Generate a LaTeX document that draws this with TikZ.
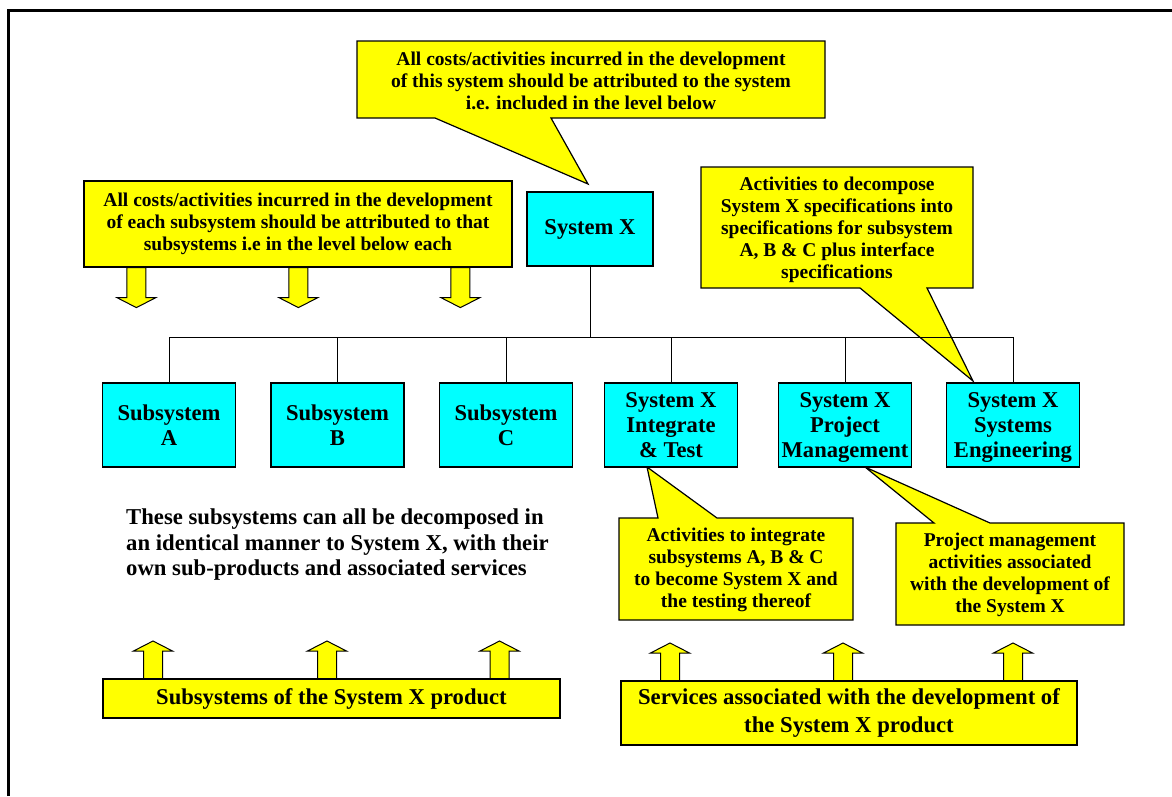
\documentclass[tikz,border=0pt]{standalone}
\usepackage{fontspec}
\setmainfont{Liberation Serif}
\usetikzlibrary{calc}
\definecolor{cyanbox}{HTML}{00FFFF}
\definecolor{yel}{HTML}{FFFF00}
\newcommand\calloutfont{\fontsize{19.5}{22}\selectfont\bfseries}
\newcommand\boxfont{\fontsize{22.6}{25}\selectfont\bfseries}
\tikzset{
  sysbox/.style={draw, fill=cyanbox, line width=1.2pt, minimum width=133, minimum height=84, inner sep=0pt, align=center, font=\boxfont},
  threeline/.style={text depth=0pt},
  callshape/.style={draw, fill=yel, line width=1.2pt, line join=miter},
  calltext/.style={align=center, inner sep=0pt, font=\calloutfont},
  yelbox/.style={draw, fill=yel, line width=1.2pt, inner sep=0pt, align=center, font=\boxfont},
  link/.style={line width=1pt},
  darrow/.pic={\draw[fill=yel, line width=1pt] (-9.5,0) -- (-9.5,30) -- (-19.5,30) -- (0,40) -- (19.5,30) -- (9.5,30) -- (9.5,0) -- cycle;},
  uarrow/.pic={\draw[fill=yel, line width=1pt] (-9.5,0) -- (-9.5,-28) -- (-19.5,-28) -- (0,-38) -- (19.5,-28) -- (9.5,-28) -- (9.5,0) -- cycle;}
}
\begin{document}
\begin{tikzpicture}[x=1pt,y=-1pt]
\useasboundingbox (0,0) rectangle (1172,796);
\fill[white] (0,0) rectangle (1172,796);
% frame
\draw[line width=3pt] (8,796) -- (8,10) -- (1172,10);

% top callout
\draw[callshape] (357,41) -- (825,41) -- (825,118) -- (551,118) -- (588,184) -- (435,118) -- (357,118) -- cycle;
\node[calltext] (topnote) at (591,81) {All costs/activities incurred in the development\\of this system should be attributed to the system\\i.e. included in the level below};

% left callout with down arrows
\node[draw, fill=yel, line width=1.2pt, minimum width=428, minimum height=86, inner sep=0pt] (leftnote) at (298,224) {};
\node[calltext] (lefttext) at (leftnote.center) {All costs/activities incurred in the development\\of each subsystem should be attributed to that\\subsystems i.e in the level below each};
\pic at ($(leftnote.south west)+(53,0)$) {darrow};
\pic at ($(leftnote.south west)+(215,0)$) {darrow};
\pic at ($(leftnote.south west)+(377,0)$) {darrow};

% right callout
\draw[callshape] (701,167) -- (973,167) -- (973,288) -- (927,288) -- (973,381) -- (860,288) -- (701,288) -- cycle;
\node[calltext] (rightnote) at (837,230) {Activities to decompose\\System X specifications into\\specifications for subsystem\\A, B \& C plus interface\\specifications};

% integrate callout
\draw[callshape] (619,518) -- (658,518) -- (647,467) -- (717,518) -- (853,518) -- (853,620) -- (619,620) -- cycle;
\node[calltext] (intnote) at (736,570) {Activities to integrate\\subsystems A, B \& C\\to become System X and\\the testing thereof};

% PM callout
\draw[callshape] (896,523) -- (934,523) -- (865,467) -- (990,523) -- (1124,523) -- (1124,625) -- (896,625) -- cycle;
\node[calltext] (pmnote) at (1010,575) {Project management\\activities associated\\with the development of\\the System X};

% boxes
\node[sysbox, minimum width=126, minimum height=74] (sx) at (590,229) {System X};
\node[sysbox] (A) at (169,425) {Subsystem\\A};
\node[sysbox] (B) at (337.5,425) {Subsystem\\B};
\node[sysbox] (C) at (506,425) {Subsystem\\C};
\node[sysbox, threeline] (I) at (671,425) {System X\\Integrate\\\& Test};
\node[sysbox, threeline] (PM) at (845,425) {System X\\Project\\Management};
\node[sysbox, threeline] (SE) at (1013,425) {System X\\Systems\\Engineering};

% tree connectors
\foreach \b in {A,B,C,I,PM,SE} \draw[link] (sx.south) -- ++(0,71) -| (\b.north);

% middle text
\node[anchor=west, align=left, inner sep=0pt, font=\fontsize{22.7}{25.5}\selectfont\bfseries] (midtext) at (126,545) {These subsystems can all be decomposed in\\an identical manner to System X, with their\\own sub-products and associated services};

% bottom left
\pic at (153,679) {uarrow};
\pic at (327,679) {uarrow};
\pic at (499.5,679) {uarrow};
\node[yelbox, minimum width=457, minimum height=39] (prod) at (331.5,698.5) {Subsystems of the System X product};

% bottom right
\pic at (670,681) {uarrow};
\pic at (843,681) {uarrow};
\pic at (1013,681) {uarrow};
\node[yelbox, minimum width=456, minimum height=64, font=\fontsize{22.7}{27.5}\selectfont\bfseries] (serv) at (849,713) {Services associated with the development of\\the System X product};
\end{tikzpicture}
\end{document}
